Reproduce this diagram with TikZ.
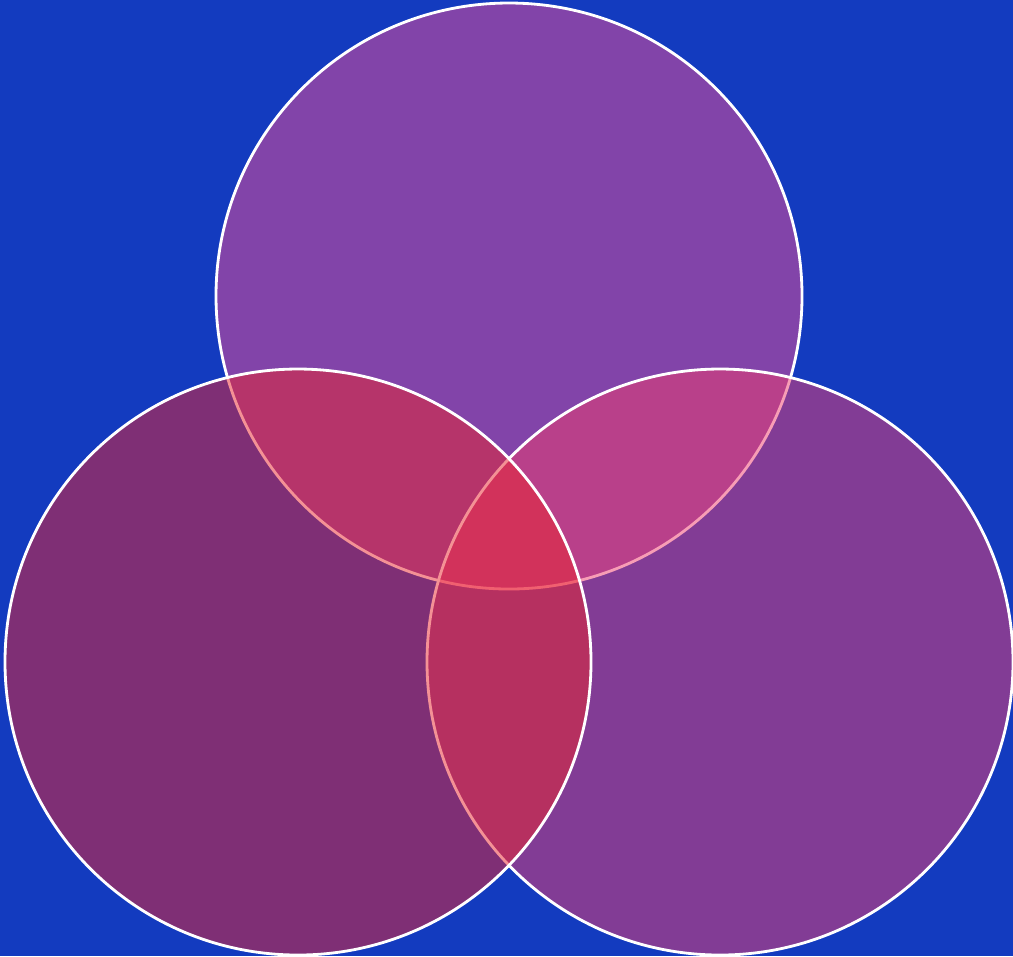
\documentclass[tikz,border=0pt]{standalone}
\usepackage{xcolor}
\usepackage{tikz}

\definecolor{bgblue}{RGB}{19,59,191}
\definecolor{toppink}{RGB}{241,77,149}
\definecolor{rightpink}{RGB}{241,61,109}
\definecolor{leftred}{RGB}{235,37,45}

\begin{document}
\begin{tikzpicture}[x=0.1mm,y=-0.1mm]
\fill[bgblue] (0,0) rectangle (1013,956);
\useasboundingbox (0,0) rectangle (1013,956);
\coordinate (top) at (509,296);
\coordinate (right) at (720,662);
\coordinate (left) at (298,662);
\draw[fill=toppink, fill opacity=0.5, draw=white, line width=0.8pt] (top) circle[radius=293];
\draw[fill=rightpink, fill opacity=0.5, draw=white, line width=0.8pt] (right) circle[radius=293];
\draw[fill=leftred, fill opacity=0.5, draw=white, line width=0.8pt] (left) circle[radius=293];
\end{tikzpicture}
\end{document}
